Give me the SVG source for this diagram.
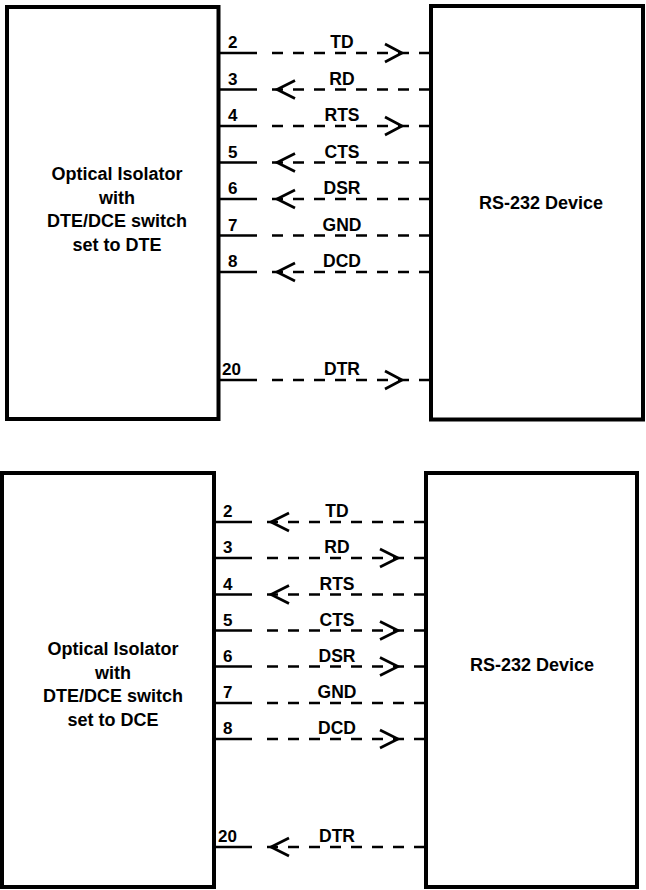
<svg xmlns="http://www.w3.org/2000/svg" width="646" height="890" viewBox="0 0 646 890">
<style>
.box{fill:#fff;stroke:#000;stroke-width:4}
.t{font-family:"Liberation Sans",Arial,sans-serif;font-weight:bold;fill:#000}
.big{font-size:18px;text-anchor:middle}
.pin{font-size:17px}
.sig{font-size:17.5px;text-anchor:middle}
.sol{stroke:#000;stroke-width:2.7;fill:none}
.dsh{stroke:#000;stroke-width:2.7;fill:none;stroke-dasharray:11 10}
.arr{stroke:#000;stroke-width:2.7;fill:none}
</style>
<rect width="646" height="890" fill="#fff"/>
<g id="iso-dte">
<rect class="box" x="7" y="7" width="211.5" height="412"/>
<text class="t big" x="117" y="180">Optical Isolator</text>
<text class="t big" x="117" y="203.5">with</text>
<text class="t big" x="117" y="227">DTE/DCE switch</text>
<text class="t big" x="117" y="250.5">set to DTE</text>
</g>
<g id="dev-top">
<rect class="box" x="431" y="6" width="212" height="413.5"/>
<text class="t big" x="541" y="209">RS-232 Device</text>
</g>
<g id="iso-dce">
<rect class="box" x="2" y="473" width="212" height="414"/>
<text class="t big" x="113" y="655">Optical Isolator</text>
<text class="t big" x="113" y="678.5">with</text>
<text class="t big" x="113" y="702">DTE/DCE switch</text>
<text class="t big" x="113" y="725.5">set to DCE</text>
</g>
<g id="dev-bottom">
<rect class="box" x="426" y="473" width="211" height="414"/>
<text class="t big" x="532" y="671">RS-232 Device</text>
</g>
<g id="connectors">
<g id="top-lines">
<path class="sol" d="M218 53H257M218 89.5H257M218 126H257M218 162.5H257M218 199H257M218 235.5H257M218 272H257M218 380H257"/>
<path class="dsh" d="M272 53H431M272 89.5H431M272 126H431M272 162.5H431M272 199H431M272 235.5H431M272 272H431M272 380H431"/>
<path class="arr" d="M385 44L402 53L385 62M385 117L402 126L385 135M385 371L402 380L385 389"/>
<path class="arr" d="M295 80.5L277 89.5L295 98.5M295 153.5L277 162.5L295 171.5M295 190L277 199L295 208M295 263L277 272L295 281"/>
</g>
<g id="top-labels">
<text class="t pin" x="228" y="48">2</text>
<text class="t pin" x="228" y="84.5">3</text>
<text class="t pin" x="228" y="121">4</text>
<text class="t pin" x="228" y="157.5">5</text>
<text class="t pin" x="228" y="194">6</text>
<text class="t pin" x="228" y="230.5">7</text>
<text class="t pin" x="228" y="267">8</text>
<text class="t pin" x="222" y="375">20</text>
<text class="t sig" x="342" y="48">TD</text>
<text class="t sig" x="342" y="84.5">RD</text>
<text class="t sig" x="342" y="121">RTS</text>
<text class="t sig" x="342" y="157.5">CTS</text>
<text class="t sig" x="342" y="194">DSR</text>
<text class="t sig" x="342" y="230.5">GND</text>
<text class="t sig" x="342" y="267">DCD</text>
<text class="t sig" x="342" y="375">DTR</text>
</g>
<g id="bottom-lines">
<path class="sol" d="M214 522H252M214 558H252M214 594.5H252M214 630.5H252M214 666.5H252M214 703H252M214 739H252M214 847H252"/>
<path class="dsh" d="M267 522H426M267 558H426M267 594.5H426M267 630.5H426M267 666.5H426M267 703H426M267 739H426M267 847H426"/>
<path class="arr" d="M380 549L398 558L380 567M380 621.5L398 630.5L380 639.5M380 657.5L398 666.5L380 675.5M380 730L398 739L380 748"/>
<path class="arr" d="M289 513L271 522L289 531M289 585.5L271 594.5L289 603.5M289 838L271 847L289 856"/>
</g>
<g id="bottom-labels">
<text class="t pin" x="223" y="517">2</text>
<text class="t pin" x="223" y="553">3</text>
<text class="t pin" x="223" y="589.5">4</text>
<text class="t pin" x="223" y="625.5">5</text>
<text class="t pin" x="223" y="661.5">6</text>
<text class="t pin" x="223" y="698">7</text>
<text class="t pin" x="223" y="734">8</text>
<text class="t pin" x="218" y="842">20</text>
<text class="t sig" x="337" y="517">TD</text>
<text class="t sig" x="337" y="553">RD</text>
<text class="t sig" x="337" y="589.5">RTS</text>
<text class="t sig" x="337" y="625.5">CTS</text>
<text class="t sig" x="337" y="661.5">DSR</text>
<text class="t sig" x="337" y="698">GND</text>
<text class="t sig" x="337" y="734">DCD</text>
<text class="t sig" x="337" y="842">DTR</text>
</g>
</g>
</svg>
